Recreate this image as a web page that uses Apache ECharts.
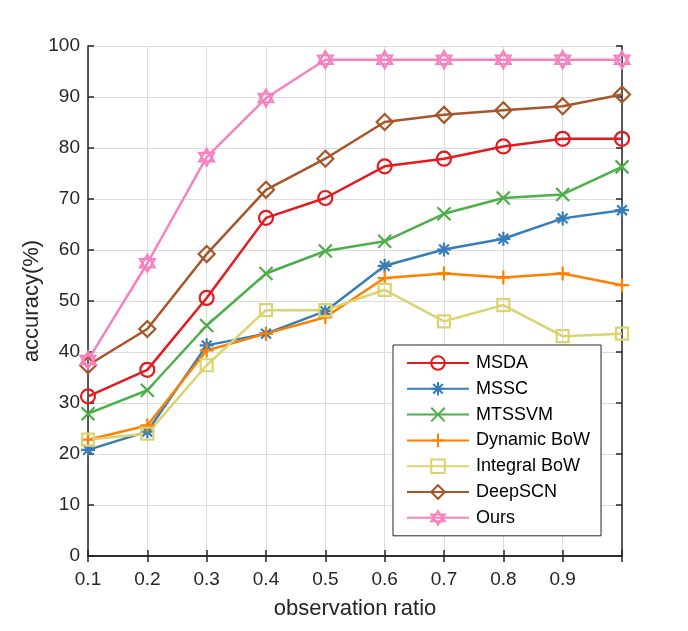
<!DOCTYPE html>
<html>
<head>
<meta charset="utf-8">
<script src="https://cdn.jsdelivr.net/npm/echarts@6/dist/echarts.min.js"></script>
<style>
  html, body { margin: 0; padding: 0; background: #fff; }
  #chart { width: 688px; height: 631px; }
</style>
</head>
<body>
<div id="chart"></div>
<script>
// Data
const ratios = [0.1, 0.2, 0.3, 0.4, 0.5, 0.6, 0.7, 0.8, 0.9, 1.0]
const msda = [31.3, 36.5, 50.6, 66.3, 70.2, 76.4, 77.9, 80.3, 81.8, 81.8]
const mssc = [20.8, 24.4, 41.3, 43.6, 48.0, 56.9, 60.1, 62.2, 66.2, 67.8]
const mtssvm = [27.9, 32.5, 45.2, 55.4, 59.8, 61.7, 67.1, 70.2, 70.9, 76.3]
const dynamicBow = [22.8, 25.6, 40.3, 43.6, 46.8, 54.5, 55.4, 54.6, 55.4, 53.1]
const integralBow = [22.8, 24.0, 37.4, 48.2, 48.2, 52.2, 46.0, 49.2, 43.1, 43.6]
const deepScn = [37.4, 44.5, 59.2, 71.8, 77.9, 85.1, 86.5, 87.4, 88.2, 90.5]
const ours = [38.4, 57.4, 78.2, 89.8, 97.3, 97.3, 97.3, 97.3, 97.3, 97.3]

// Marker paths
const SYM_ASTERISK = 'path://M10,0L10,20M0,10L20,10M3,3L17,17M17,3L3,17'
const SYM_CROSS = 'path://M1,1L19,19M19,1L1,19'
const SYM_PLUS = 'path://M10,0L10,20M0,10L20,10'
const SYM_HEXAGRAM = 'path://M10,0L18.66,15L1.34,15ZM10,20L1.34,5L18.66,5Z'

const FONT = 'Liberation Sans, Arial, sans-serif'
const AXIS_COLOR = '#262626'

function makeSeries(name, values, color, symbol, size) {
  return {
    name: name,
    type: 'line',
    data: ratios.map((r, i) => [r, values[i]]),
    symbol: symbol,
    symbolSize: size,
    symbolKeepAspect: true,
    lineStyle: { color: color, width: 2.5 },
    itemStyle: { color: 'rgba(255,255,255,0)', borderColor: color, borderWidth: 2.2 },
    emphasis: { disabled: true },
    z: 3
  }
}

const chart = echarts.init(document.getElementById('chart'))

const option = {
  animation: false,
  backgroundColor: '#fff',
  textStyle: { fontFamily: FONT },
  grid: { left: 88, right: 66, top: 46, bottom: 75 },
  legend: {
    orient: 'vertical',
    left: 393,
    top: 345,
    backgroundColor: '#fff',
    borderColor: AXIS_COLOR,
    borderWidth: 1,
    borderRadius: 0,
    padding: [9, 11, 9, 13],
    itemWidth: 62,
    itemHeight: 17,
    itemGap: 7.8,
    textStyle: { fontFamily: FONT, fontSize: 18, lineHeight: 18, color: '#000', padding: [0, 0, 0, 2] },
    data: ['MSDA', 'MSSC', 'MTSSVM', 'Dynamic BoW', 'Integral BoW', 'DeepSCN', 'Ours']
  },
  xAxis: [
    {
      type: 'value',
      min: 0.1,
      max: 1.0,
      interval: 0.1,
      name: 'observation ratio',
      nameLocation: 'middle',
      nameGap: 42,
      nameMoveOverlap: false,
      nameTextStyle: { fontFamily: FONT, fontSize: 22, color: '#262626' },
      axisLine: { show: true, lineStyle: { color: AXIS_COLOR, width: 1.5 } },
      axisTick: { show: true, inside: true, length: 6, lineStyle: { color: AXIS_COLOR, width: 1.5 } },
      axisLabel: {
        fontFamily: FONT, fontSize: 19, color: '#262626', margin: 14,
        formatter: v => (v > 0.95 ? '' : v.toFixed(1))
      },
      splitLine: { show: true, lineStyle: { color: '#dcdcdc', width: 1 } }
    },
    {
      type: 'value',
      position: 'top',
      min: 0.1,
      max: 1.0,
      interval: 0.1,
      axisLine: { show: true, lineStyle: { color: AXIS_COLOR, width: 1.5 } },
      axisTick: { show: true, inside: true, length: 6, lineStyle: { color: AXIS_COLOR, width: 1.5 } },
      axisLabel: { show: false },
      splitLine: { show: false }
    }
  ],
  yAxis: [
    {
      type: 'value',
      min: 0,
      max: 100,
      interval: 10,
      name: 'accuracy(%)',
      nameLocation: 'middle',
      nameGap: 45,
      nameMoveOverlap: false,
      nameTextStyle: { fontFamily: FONT, fontSize: 22, color: '#262626' },
      axisLine: { show: true, lineStyle: { color: AXIS_COLOR, width: 1.5 } },
      axisTick: { show: true, inside: true, length: 6, lineStyle: { color: AXIS_COLOR, width: 1.5 } },
      axisLabel: { fontFamily: FONT, fontSize: 19, color: '#262626', margin: 8 },
      splitLine: { show: true, lineStyle: { color: '#dcdcdc', width: 1 } }
    },
    {
      type: 'value',
      position: 'right',
      min: 0,
      max: 100,
      interval: 10,
      axisLine: { show: true, lineStyle: { color: AXIS_COLOR, width: 1.5 } },
      axisTick: { show: true, inside: true, length: 6, lineStyle: { color: AXIS_COLOR, width: 1.5 } },
      axisLabel: { show: false },
      splitLine: { show: false }
    }
  ],
  series: [
    makeSeries('MSDA', msda, '#e41a1c', 'circle', 14),
    makeSeries('MSSC', mssc, '#377eb8', SYM_ASTERISK, 14),
    makeSeries('MTSSVM', mtssvm, '#4daf4a', SYM_CROSS, 13),
    makeSeries('Dynamic BoW', dynamicBow, '#ff7f00', SYM_PLUS, 14),
    makeSeries('Integral BoW', integralBow, '#dcd36f', 'rect', 12),
    makeSeries('DeepSCN', deepScn, '#a65628', 'diamond', 16),
    makeSeries('Ours', ours, '#f781bf', SYM_HEXAGRAM, 17)
  ]
}

chart.setOption(option)
</script>
</body>
</html>
